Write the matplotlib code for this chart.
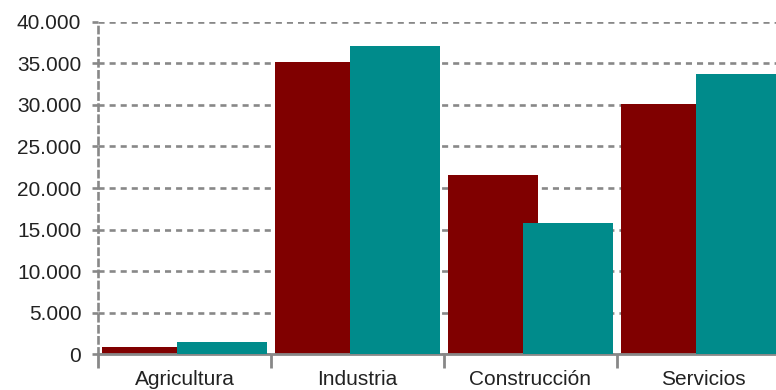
import numpy as np
import matplotlib
matplotlib.use("Agg")
import matplotlib.pyplot as plt
from matplotlib.ticker import FuncFormatter

# data
categories = ["Agricultura", "Industria", "Construcción", "Servicios"]
serie_a = [900, 35200, 21600, 30150]
serie_b = [1500, 37100, 15800, 33750]
y_ticks = [0, 5000, 10000, 15000, 20000, 25000, 30000, 35000, 40000]

plt.rcParams['font.family'] = ['Liberation Sans', 'DejaVu Sans']

fig = plt.figure(figsize=(7.76, 3.9), dpi=100)
# axes runs past the right edge of the figure, like the reference
ax = fig.add_axes([98 / 776, (390 - 354.3) / 390, 692 / 776, 332.6 / 390])

x = np.arange(len(categories))
w = 0.515
ax.bar(x - 0.217, serie_a, width=w, color="#800000", zorder=2)
ax.bar(x + 0.217, serie_b, width=w, color="#008b8b", zorder=3)

ax.set_xlim(-0.5, len(categories) - 0.5)
ax.set_ylim(0, 40000)

grey = "#888888"
dash = (0, (2.3, 1.9))
ax.set_yticks(y_ticks)
ax.yaxis.set_major_formatter(FuncFormatter(lambda v, p: f"{int(v):,}".replace(",", ".")))
ax.grid(axis="y", color=grey, linewidth=1.9, linestyle=dash, zorder=0)

# boundaries get tick marks, centres get the labels
ax.set_xticks(np.arange(-0.5, len(categories)))
ax.set_xticklabels([])
ax.set_xticks(x, minor=True)
ax.set_xticklabels(categories, minor=True)
ax.tick_params(axis="x", which="major", length=10, width=2, color=grey, direction="out")
ax.tick_params(axis="x", which="minor", length=0, pad=11, labelsize=15, labelcolor="#222222")
ax.tick_params(axis="y", length=4, width=1.9, color=grey, pad=8, labelsize=15, labelcolor="#222222")

for s in ["top", "right"]:
    ax.spines[s].set_visible(False)
ax.spines["bottom"].set_color(grey)
ax.spines["bottom"].set_linewidth(2)
ax.spines["left"].set_color(grey)
ax.spines["left"].set_linewidth(1.9)
ax.spines["left"].set_linestyle(dash)

fig.savefig("out.png", dpi=100)
